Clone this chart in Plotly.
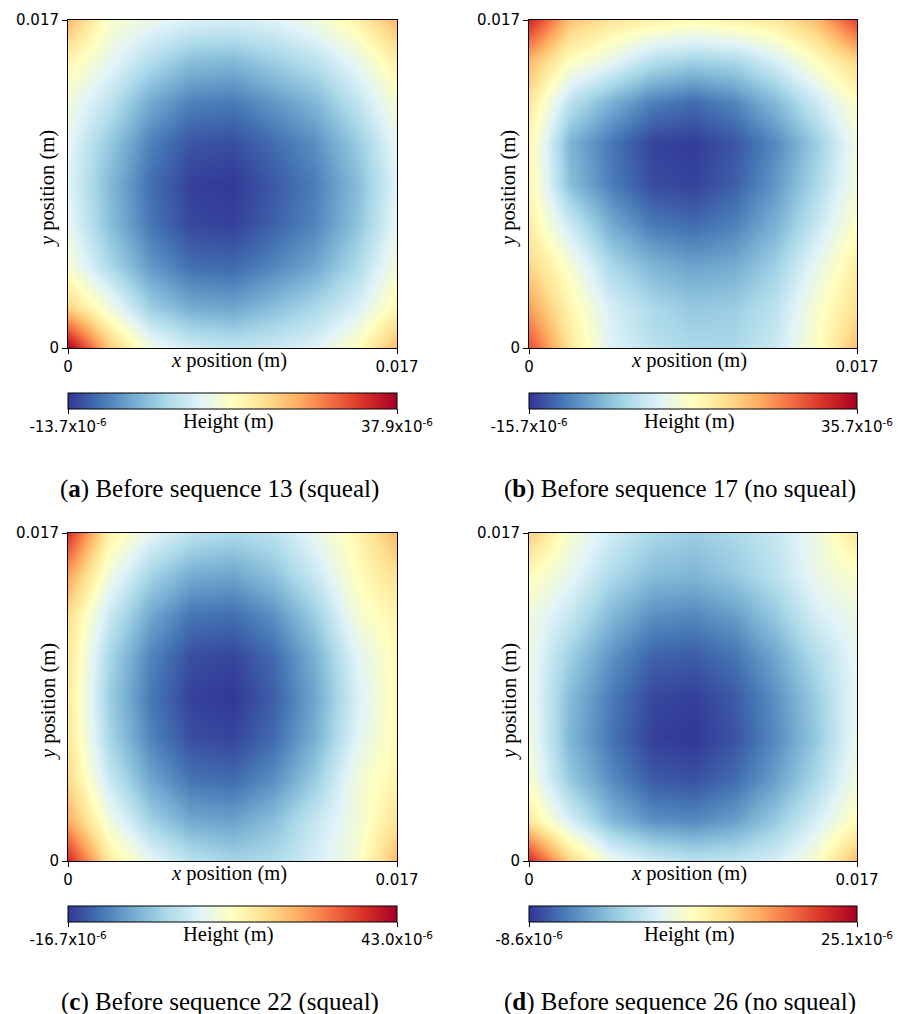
import plotly.graph_objects as go

# ---------------- data (heights in micrometres, rows = y from 0 to 0.017 m) ----------------
x_pos = [0.0, 0.002125, 0.00425, 0.006375, 0.0085, 0.010625, 0.01275, 0.014875, 0.017]
y_pos = [0.0, 0.002125, 0.00425, 0.006375, 0.0085, 0.010625, 0.01275, 0.014875, 0.017]

height_a_um = [
    [37.9, 19.8, 9.5, 5.4, 3.8, 4.9, 6.9, 12.1, 21.4],
    [18.3, 9.5, 0.4, -3.5, -4.1, -1.4, 1.7, 5.9, 13.6],
    [10.6, 2.0, -5.2, -9.1, -9.6, -7.0, -3.9, 2.0, 10.0],
    [8.0, -1.1, -8.3, -12.2, -12.8, -10.1, -7.0, -1.1, 8.0],
    [6.9, -1.8, -9.0, -12.9, -13.4, -10.8, -7.7, -1.8, 6.9],
    [7.5, -0.1, -7.4, -11.2, -11.8, -9.2, -6.1, -0.1, 8.0],
    [9.5, 3.7, -3.5, -7.4, -8.0, -5.3, -2.2, 3.7, 10.6],
    [13.6, 8.0, 2.5, -1.4, -2.0, 0.6, 3.3, 8.0, 14.7],
    [21.4, 11.1, 8.5, 6.4, 5.9, 6.9, 9.5, 14.2, 21.4],
]
height_b_um = [
    [28.0, 14.1, 4.9, 1.3, -0.3, -0.3, 2.8, 9.5, 18.7],
    [21.3, 11.5, 3.8, -0.3, -2.3, -1.8, 1.3, 8.5, 15.1],
    [16.2, 8.5, -0.3, -4.4, -6.4, -5.4, -1.3, 5.9, 13.1],
    [13.1, 2.8, -5.4, -10.0, -11.3, -9.5, -4.9, 2.3, 10.0],
    [11.5, -3.4, -9.8, -13.9, -14.7, -12.4, -7.5, -0.3, 7.9],
    [11.5, -4.6, -10.3, -14.6, -15.2, -13.2, -8.8, -1.8, 7.4],
    [14.1, 1.3, -4.9, -9.5, -11.3, -9.0, -3.9, 2.8, 10.0],
    [19.3, 10.0, 5.9, 0.7, -1.3, -0.3, 3.8, 10.0, 16.2],
    [31.6, 18.2, 14.1, 12.1, 11.0, 12.1, 13.6, 18.7, 29.0],
]
height_c_um = [
    [38.2, 17.3, 8.4, 3.0, 0.6, 1.8, 6.0, 11.4, 23.9],
    [25.1, 10.2, 0.2, -5.2, -6.0, -2.4, 4.2, 10.2, 18.5],
    [19.7, 4.5, -5.5, -10.9, -11.7, -8.0, -0.6, 10.2, 15.5],
    [17.9, 0.9, -9.1, -14.4, -15.3, -11.6, -4.2, 7.2, 14.3],
    [17.3, -0.3, -10.3, -15.6, -16.5, -12.8, -5.4, 6.0, 14.3],
    [17.9, 1.0, -9.0, -14.4, -15.2, -11.6, -4.1, 7.2, 14.3],
    [19.1, 4.8, -5.2, -10.6, -11.4, -7.7, -0.3, 10.8, 15.5],
    [26.3, 10.2, 0.8, -4.6, -5.4, -1.8, 4.8, 13.2, 19.1],
    [37.0, 16.1, 7.8, 3.0, 1.2, 3.0, 8.4, 14.9, 23.9],
]
height_d_um = [
    [22.4, 12.3, 6.2, 3.9, 2.5, 2.9, 4.2, 7.6, 14.3],
    [10.6, 4.2, -0.9, -3.6, -4.1, -2.8, 0.3, 4.2, 8.6],
    [7.6, 0.2, -3.9, -6.7, -7.2, -5.8, -2.7, 1.5, 6.6],
    [6.6, -1.2, -5.2, -8.0, -8.5, -7.1, -4.0, 0.2, 5.9],
    [6.2, -0.8, -4.8, -7.6, -8.1, -6.7, -3.6, 0.6, 5.6],
    [6.2, 0.7, -3.4, -6.2, -6.6, -5.3, -2.2, 2.0, 5.6],
    [6.6, 3.2, -0.9, -3.6, -4.1, -2.8, 0.3, 4.2, 6.2],
    [8.6, 5.6, 1.8, -0.6, -1.1, 0.3, 2.5, 5.9, 7.9],
    [13.0, 7.2, 3.9, 1.5, 0.5, 1.5, 3.2, 6.2, 11.0],
]

height_min_um = [-13.7, -15.7, -16.7, -8.6]
height_max_um = [37.9, 35.7, 43.0, 25.1]
min_labels = ["-13.7", "-15.7", "-16.7", "-8.6"]
max_labels = ["37.9", "35.7", "43.0", "25.1"]
panel_letters = ["a", "b", "c", "d"]
panel_captions = ["Before sequence 13 (squeal)", "Before sequence 17 (no squeal)",
                  "Before sequence 22 (squeal)", "Before sequence 26 (no squeal)"]
axis_tick_vals = [0, 0.017]
axis_tick_text = ["0", "0.017"]

# ---------------- layout (pixel boxes of the plot areas) ----------------
W, H = 901, 1014
boxes = [(68, 397, 20, 348), (529, 857, 20, 348), (68, 397, 533, 861), (529, 857, 533, 861)]
heights = [height_a_um, height_b_um, height_c_um, height_d_um]

SANS = "DejaVu Sans"
SERIF = "Liberation Serif"
TICK_SIZE = 15
TITLE_SIZE = 20.5
CAPTION_SIZE = 25

fig = go.Figure()
layout = dict(width=W, height=H, margin=dict(l=0, r=0, t=0, b=0, autoexpand=False),
              paper_bgcolor="white", plot_bgcolor="white", showlegend=False)
annotations = []

for i in range(4):
    x0, x1, y0, y1 = boxes[i]
    suffix = "" if i == 0 else str(i + 1)
    zmin = height_min_um[i] * 1e-6
    zmax = height_max_um[i] * 1e-6
    z = [[v * 1e-6 for v in row] for row in heights[i]]
    fig.add_trace(go.Heatmap(
        x=x_pos, y=y_pos, z=z, zmin=zmin, zmax=zmax,
        colorscale="RdYlBu", reversescale=True, zsmooth="best",
        xaxis="x" + suffix, yaxis="y" + suffix, hoverinfo="skip",
        colorbar=dict(
            orientation="h", lenmode="pixels", len=x1 - x0,
            thicknessmode="pixels", thickness=16,
            x=x0 / W, xanchor="left", xpad=0,
            y=1 - (y1 + 45) / H, yanchor="top", ypad=0,
            tickmode="array", tickvals=[zmin, zmax],
            ticktext=[min_labels[i] + "x10<sup>-6</sup>", max_labels[i] + "x10<sup>-6</sup>"],
            ticks="outside", ticklen=5, tickcolor="black", tickwidth=1,
            outlinewidth=1, outlinecolor="black",
            tickfont=dict(family=SANS, size=TICK_SIZE, color="black"),
        ),
    ))
    common = dict(range=[0, 0.017], tickmode="array", tickvals=axis_tick_vals, ticktext=axis_tick_text,
                  ticks="outside", ticklen=5, tickcolor="black", tickwidth=1,
                  showline=True, linecolor="black", linewidth=1, mirror=True,
                  showgrid=False, zeroline=False, fixedrange=True, automargin=False,
                  tickfont=dict(family=SANS, size=TICK_SIZE, color="black"))
    layout["xaxis" + suffix] = dict(domain=[x0 / W, x1 / W], anchor="y" + suffix, **common)
    layout["yaxis" + suffix] = dict(domain=[1 - y1 / H, 1 - y0 / H], anchor="x" + suffix, **common)

    cx = (x0 + x1) / 2
    annotations.append(dict(text="<i>x</i> position (m)", x=(cx - 4) / W, y=1 - (y1 + 12) / H,
                            xref="paper", yref="paper", showarrow=False, xanchor="center", yanchor="middle",
                            font=dict(family=SERIF, size=TITLE_SIZE, color="black")))
    annotations.append(dict(text="<i>y</i> position (m)", x=(x0 - 20) / W, y=1 - ((y0 + y1) / 2 + 5) / H,
                            xref="paper", yref="paper", showarrow=False, xanchor="center", yanchor="middle",
                            textangle=-90, font=dict(family=SERIF, size=TITLE_SIZE, color="black")))
    annotations.append(dict(text="Height (m)", x=(cx - 4) / W, y=1 - (y1 + 73) / H,
                            xref="paper", yref="paper", showarrow=False, xanchor="center", yanchor="middle",
                            font=dict(family=SERIF, size=TITLE_SIZE, color="black")))
    annotations.append(dict(text="(<b>" + panel_letters[i] + "</b>) " + panel_captions[i],
                            x=(cx - 13) / W, y=1 - (y1 + 141) / H,
                            xref="paper", yref="paper", showarrow=False, xanchor="center", yanchor="middle",
                            font=dict(family=SERIF, size=CAPTION_SIZE, color="black")))

layout["annotations"] = annotations
fig.update_layout(**layout)
fig.write_html("out.html")
